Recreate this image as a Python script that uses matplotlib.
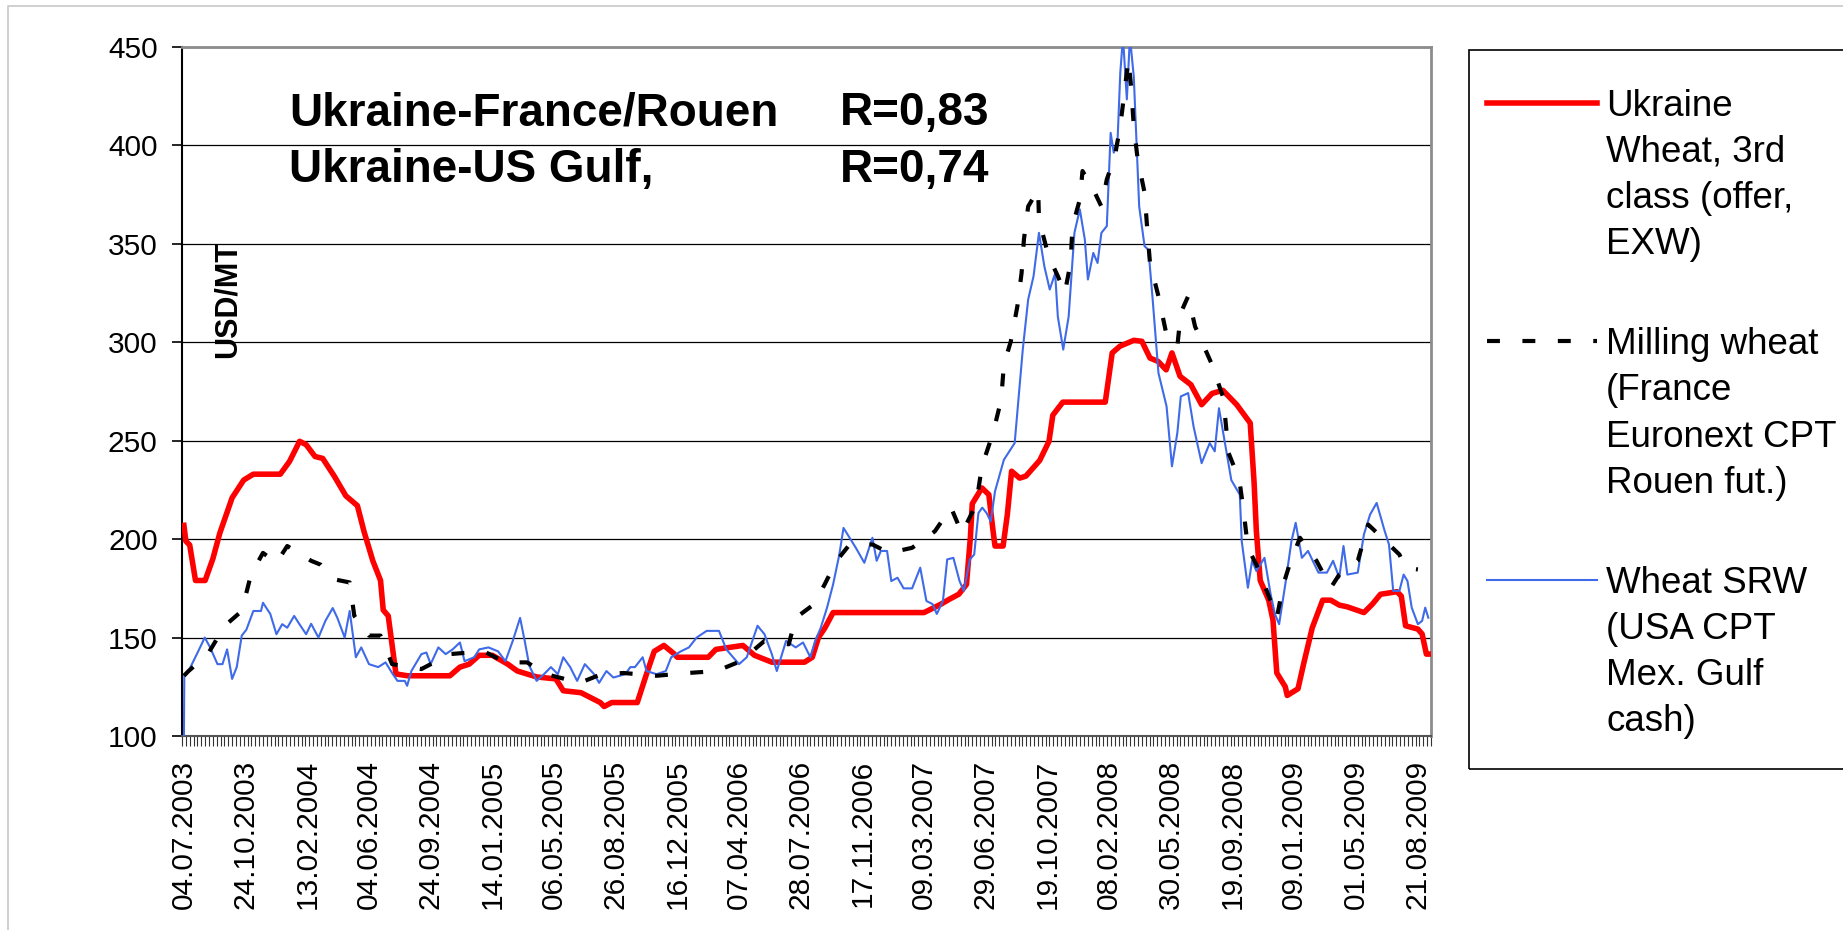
import numpy as np
import matplotlib
matplotlib.use("Agg")
import matplotlib.pyplot as plt
from matplotlib.lines import Line2D
from matplotlib.patches import Rectangle

plt.rcParams["font.family"] = ["Liberation Sans", "DejaVu Sans"]

W, H = 1843, 930

# weekly category axis, first week 04.07.2003
n_weeks = 324
date_labels = ["04.07.2003", "24.10.2003", "13.02.2004", "04.06.2004", "24.09.2004",
               "14.01.2005", "06.05.2005", "26.08.2005", "16.12.2005", "07.04.2006",
               "28.07.2006", "17.11.2006", "09.03.2007", "29.06.2007", "19.10.2007",
               "08.02.2008", "30.05.2008", "19.09.2008", "09.01.2009", "01.05.2009",
               "21.08.2009"]
label_step = 16

# Ukraine wheat 3rd class (offer, EXW), USD/MT
ukr_weeks = [0, 0.5, 1.5, 3, 5.5, 7.5, 9.3, 12.5, 15.5, 18, 25, 27.4, 30, 31.7, 34, 36, 39,
             42, 45, 46.7, 49, 51, 51.7, 53, 55, 58, 69, 71.6, 74, 76.6, 80, 84, 86.5, 91.5,
             96.5, 98.4, 103, 108, 109, 111, 117.6, 120, 122, 124.5, 127, 128, 136, 138,
             145, 148, 152.5, 161, 163, 164.6, 166.3, 168.4, 192, 196.4, 198.5, 201, 203,
             204, 204.5, 207, 208.8, 209.8, 210.4, 212.5, 213.6, 214.7, 216.8, 218.4, 222,
             224.4, 225.4, 228, 239, 240.8, 242.8, 246.4, 248.5, 250.6, 252.7, 254.8, 256.3,
             258.4, 261.2, 264, 266.7, 269.5, 273.1, 276.6, 277.6, 278.2, 279.2, 281.4,
             282.5, 283.5, 285.7, 286.2, 289, 290.5, 292.7, 295.4, 297.5, 299.7, 301.8,
             306.1, 308.3, 310.4, 314.7, 315.8, 316.9, 320.1, 321.2, 322.3, 323]
ukr_price = [207, 199, 197, 179, 179, 190, 203, 221, 230, 233, 233, 239.5, 249.7, 248, 242,
             241, 232, 222, 217, 204, 189, 179, 164, 161, 131.5, 130.6, 130.6, 135, 136.5,
             141, 141, 136.5, 133, 130, 129, 123, 122, 117, 115, 117, 117, 131.5, 143, 146,
             142, 140, 140, 144, 146, 141, 137.5, 137.5, 140, 150, 155, 162.7, 162.7, 167,
             169.4, 172, 177, 200.6, 218, 226, 222.6, 205.7, 196.5, 196.5, 212.5, 234.5,
             231, 232, 240, 249.7, 263, 269.6, 269.6, 294.6, 298, 301, 300.5, 292, 290.3,
             286, 294.6, 282.7, 278.5, 268.3, 274, 275.6, 268.3, 259, 229, 204, 179, 169,
             159, 132, 125, 120.6, 124, 137, 155, 169, 169, 166.5, 165.6, 162.7, 167, 172,
             173.3, 171, 156, 154.3, 151.8, 141.6, 141.6]

# Milling wheat, France Euronext CPT Rouen futures
fr_weeks = [0, 1.2, 6.2, 10.6, 15, 17.4, 20.5, 24, 26.8, 33, 35.5, 39, 43, 44.2, 48, 51, 54,
            61.6, 69, 77.8, 83.4, 89, 94, 102.7, 108.3, 114, 122.6, 130.7, 138.2, 144.4,
            150.6, 156.9, 158.7, 163.5, 166.2, 169.3, 172.7, 178.6, 182.9, 188.9, 194.8,
            199, 201.8, 205.5, 207, 209.9, 212, 212.7, 214.5, 216.2, 217.3, 217.9, 219,
            221.6, 221.8, 224.3, 226.7, 228.5, 230, 230.5, 232.4, 233.1, 235.9, 238, 239.4,
            241.5, 242.9, 245, 245.7, 246.4, 247.4, 249.2, 249.9, 250.6, 252.8, 254.8,
            257.7, 258.6, 260.5, 262.3, 266.5, 269.6, 271, 273.8, 275, 276, 278.2, 280.9,
            283.5, 285.2, 286.8, 289.5, 293.8, 297.5, 299.7, 304.5, 307.2, 310.4, 312.6,
            315.3, 316.9, 320.1]
fr_price = [130.6, 133, 141.6, 156, 163.5, 182, 193, 188, 196.5, 189, 187, 179.6, 178, 161,
            151, 151, 136.5, 134, 141.6, 143, 137.4, 137.4, 131.4, 127, 131.4, 132, 130.6,
            132, 133, 138, 148.3, 146.6, 160, 167, 177, 189, 197.3, 197.3, 193, 195.6, 204,
            216, 203, 217.6, 237, 254, 270.8, 288.6, 300.5, 318.3, 335.3, 352.2, 369, 377.6,
            362.4, 343.7, 333.6, 325, 340.3, 359, 372.5, 387, 377.6, 369, 382.7, 394.6,
            409.8, 443.7, 430, 409.8, 393, 376, 357.3, 340.3, 323.4, 304.7, 298, 315, 323.4,
            308, 289.5, 272, 243.7, 230, 212.5, 195.6, 187, 173.7, 160, 177, 187, 200.7,
            189, 175.3, 182, 189, 207.4, 201.5, 197.3, 192.2, 185.5, 184.6]

# Wheat SRW, USA CPT Mex. Gulf cash
us_weeks = [0, 0.1, 1.2, 3.7, 5.4, 6.8, 8.7, 10, 11.2, 12.5, 13.7, 15, 16.2, 18, 20, 20.5,
            22.4, 24, 25.5, 26.8, 28.6, 29.9, 31.7, 33, 34.9, 36.7, 38.6, 39.8, 41.7, 43,
            44.6, 46, 48, 50.4, 52.3, 54, 55.4, 57.3, 57.9, 59, 61.6, 62.9, 64, 66, 67.9,
            69.7, 71.6, 72.8, 75.3, 76.6, 79, 81.5, 83.4, 85.3, 87.2, 88.4, 89.6, 91.5, 93.4,
            95.2, 97, 98.4, 100.2, 102, 104, 106.4, 107.7, 109.6, 111.4, 114.5, 115.8, 117,
            119, 120, 122.6, 125, 126.4, 128.9, 131, 133, 135.6, 138.8, 140.7, 144, 146,
            148.8, 150.6, 152.5, 153.8, 156.2, 158.7, 160.6, 162.5, 163.7, 165.2, 166.8,
            168.4, 170, 171.1, 172.7, 174.3, 176.5, 178.6, 179.7, 180.8, 182.4, 183.5,
            185.1, 186.7, 188.9, 191, 192.6, 194.2, 195.3, 196.9, 198, 199.6, 201.2, 202.3,
            203.9, 205, 206.1, 207.1, 208.2, 209.3, 210.4, 212.7, 215.5, 217.6, 219, 220.4,
            221.8, 223.2, 224.6, 226, 226.7, 228.1, 229.5, 231, 232.4, 233.7, 234.5, 235.9,
            237, 238, 239.4, 240.4, 241.2, 242.2, 242.9, 243.6, 244.6, 245.4, 246.4, 247.8,
            249.2, 250.2, 251.3, 252.8, 254.9, 256.3, 257.7, 258.6, 260.5, 261.9, 264,
            266.1, 267.4, 268.5, 269.6, 271.7, 273.9, 274.4, 276, 277.1, 278.2, 280.3,
            281.9, 283, 284.1, 285.7, 287.3, 288.4, 290, 291.6, 294.3, 296.5, 298.1, 299.7,
            300.8, 301.8, 304.5, 306.1, 307.7, 309.4, 311.5, 312.6, 313.7, 315.3, 316.4,
            317.4, 318.5, 320.1, 321.2, 322, 322.8]
us_price = [100, 131, 133, 143, 150, 145, 136.5, 136.5, 144, 129, 135, 151, 154, 163.5,
            163.5, 167.7, 162, 151.7, 156.8, 155, 161, 157, 151.7, 157, 150, 158.5, 165, 160,
            150, 163.5, 140, 145, 136.5, 135, 137.4, 132, 128, 128, 125.5, 133, 141.6, 142.4,
            136.5, 145, 141.6, 144, 147.5, 138, 140, 144, 145, 143, 138, 148.3, 160, 148.3,
            135.6, 128, 131.4, 135, 131.4, 140, 135, 128, 136.5, 131.4, 127, 133, 129.7,
            131.4, 135, 135, 140, 133, 131.4, 133, 140, 143, 145, 150, 153.4, 153.4, 144,
            136.5, 140, 156, 151.7, 141.6, 133, 148.3, 145, 147.5, 140, 148, 155, 165, 177,
            192, 205.7, 200.7, 195.6, 188, 200.7, 189, 194, 194, 178.7, 180.4, 175, 175,
            185.5, 168.6, 167, 162, 168.6, 189.7, 190.5, 178.7, 173.7, 189.7, 192.2, 213.3,
            216, 213.3, 209, 224.3, 240.3, 248.8, 296.3, 321.7, 333.6, 355.6, 338.6, 326.8,
            335, 313, 296.3, 313, 355.6, 367.5, 352.2, 331.9, 345.4, 340.3, 355.6, 359,
            406.4, 396.3, 403, 437, 455, 423.4, 455, 435, 369, 348.8, 347, 321.7, 284.4,
            267.5, 237, 254, 272.5, 274.2, 257.3, 238.6, 248.8, 244.6, 266.5, 254, 230,
            222.6, 199, 175.3, 189, 183.8, 190.5, 172, 162, 156.8, 177, 199, 208.3, 190.5,
            194, 183, 183, 189, 180.4, 196.5, 182, 183, 202.4, 212.5, 218.4, 204, 197.3,
            173.7, 173.7, 182, 178.7, 165.2, 156.8, 158.5, 165.2, 160.1]

series_labels = ["Ukraine\nWheat, 3rd\nclass (offer,\nEXW)",
                 "Milling wheat\n(France\nEuronext CPT\nRouen fut.)",
                 "Wheat SRW\n(USA CPT\nMex. Gulf\ncash)"]

red = "#ff0000"
blue = "#3f6ae8"
dash_style = (3.1, 5.4)


def fx(px):
    return px / W


def fy(py):
    return 1 - py / H


fig = plt.figure(figsize=(W / 100, H / 100), dpi=100)
ax = fig.add_axes([fx(182), fy(736), (1431 - 182) / W, (736 - 47) / H])

ax.plot(ukr_weeks, ukr_price, color=red, linewidth=4.0, solid_joinstyle="round", zorder=3)
ax.plot(us_weeks, us_price, color=blue, linewidth=1.5, zorder=4)
ax.plot(fr_weeks, fr_price, color="black", linewidth=3.0, dashes=dash_style,
        dash_capstyle="butt", zorder=5)

ax.set_xlim(-0.5, n_weeks - 0.5)
ax.set_ylim(100, 450)
ax.set_yticks(np.arange(100, 451, 50))
ax.set_xticks(np.arange(len(date_labels)) * label_step)
ax.set_xticklabels(date_labels, rotation=90, fontsize=21.5)
ax.set_xticks(np.arange(n_weeks + 1) - 0.5, minor=True)
ax.yaxis.grid(True, color="black", linewidth=0.9)
ax.set_axisbelow(True)

ax.tick_params(axis="y", labelsize=21.5, length=7, width=1.2, pad=10.5)
ax.tick_params(axis="x", which="major", length=0, pad=17)
ax.tick_params(axis="x", which="minor", length=7, width=0.8, color="#333333")

ax.spines["left"].set_linewidth(1.5)
ax.spines["left"].set_color("black")
ax.spines["bottom"].set_linewidth(1.5)
ax.spines["bottom"].set_color("#555555")
for side in ["top", "right"]:
    ax.spines[side].set_linewidth(2.0)
    ax.spines[side].set_color("#8c8c8c")

ax.text(fx(228), fy(300), "USD/MT", transform=fig.transFigure, rotation=90,
        fontsize=22, fontweight="bold", ha="center", va="center")

fig.text(fx(289), fy(125), "Ukraine-France/Rouen", fontsize=33, fontweight="bold",
         va="baseline")
fig.text(fx(840), fy(125), "R=0,83", fontsize=33, fontweight="bold", va="baseline")
fig.text(fx(289), fy(182), "Ukraine-US Gulf,", fontsize=33, fontweight="bold",
         va="baseline")
fig.text(fx(840), fy(182), "R=0,74", fontsize=33, fontweight="bold", va="baseline")

# legend box, runs off the right edge like the original
fig.patches.append(Rectangle((fx(1469), fy(769)), (1950 - 1469) / W, (769 - 50) / H,
                             transform=fig.transFigure, fill=False, edgecolor="black",
                             linewidth=1.2))
legend_styles = [dict(color=red, linewidth=4.0),
                 dict(color="black", linewidth=3.0, dashes=dash_style,
                      dash_capstyle="butt"),
                 dict(color=blue, linewidth=1.5)]
for i, (label, style) in enumerate(zip(series_labels, legend_styles)):
    first = 102.6 + i * 238.5
    fig.lines.append(Line2D([fx(1487), fx(1597)], [fy(first), fy(first)],
                            transform=fig.transFigure, **style))
    for j, line in enumerate(label.split("\n")):
        fig.text(fx(1606), fy(first + j * 46.2 + 13), line, fontsize=26.5,
                 va="baseline")

# light frame around the picture
fig.lines.append(Line2D([fx(8), fx(8), 1], [0, fy(6), fy(6)], transform=fig.transFigure,
                        color="#c8c8c8", linewidth=1.2))

fig.savefig("out.png", dpi=100, facecolor="white")
